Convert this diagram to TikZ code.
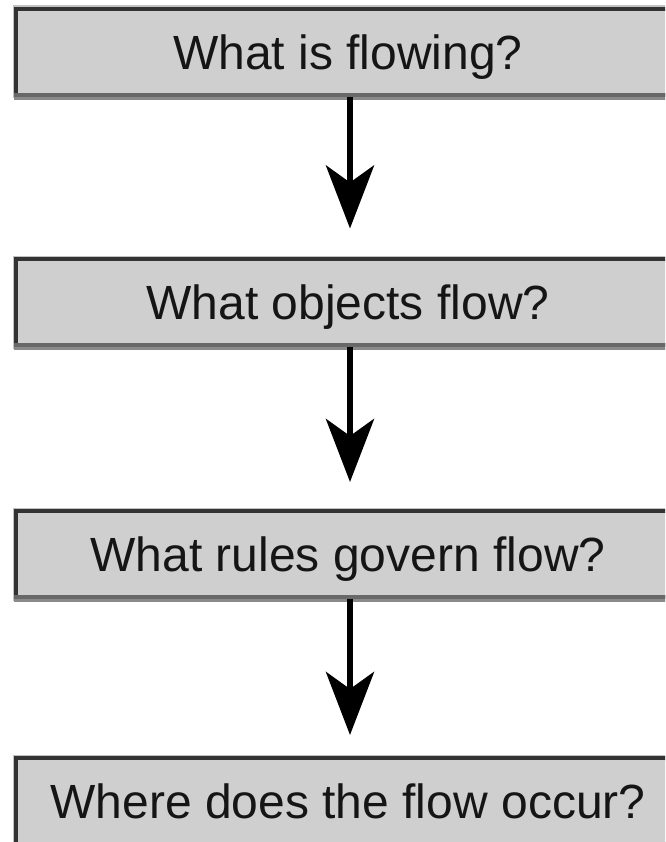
\documentclass[tikz,border=0pt]{standalone}
\usepackage{fontspec}
\setmainfont{Liberation Sans}
\usetikzlibrary{arrows.meta}

\definecolor{boxfill}{HTML}{CFCFCF}
\definecolor{boxline}{HTML}{333333}
\definecolor{boxhalo}{HTML}{C2C2C2}
\definecolor{botedge}{HTML}{686868}
\definecolor{botshadow}{HTML}{8A8A8A}
\definecolor{labeltext}{HTML}{151515}

\tikzset{
  qbox/.style={
    draw=boxline, fill=boxfill, line width=3.5pt,
    minimum width=664pt, minimum height=86pt, inner sep=0pt,
    text height=34.4pt, text depth=0pt, text=labeltext,
    font=\fontsize{48}{58}\selectfont,
    preaction={draw=boxhalo, line width=7pt}
  },
  flowarrow/.style={
    draw=black, line width=6.5pt,
    -{Stealth[length=63pt, width=48pt, inset=17pt]}
  },
  bottomedge/.style={draw=botedge, line width=3.5pt},
  bottomshadow/.style={draw=botshadow, line width=3.5pt}
}

\begin{document}
\begin{tikzpicture}
  \useasboundingbox (0,0) rectangle (665pt,-842pt);
  \fill[white] (0,0) rectangle (665pt,-842pt);
  \clip (0,0) rectangle (665pt,-842pt);

  % the four question boxes
  \node[qbox] (b1) at (348pt,-52pt)  {What is flowing?};
  \node[qbox] (b2) at (348pt,-302pt) {What objects flow?};
  \node[qbox] (b3) at (348pt,-554pt) {What rules govern flow?};
  \node[qbox] (b4) at (348pt,-801pt) {Where does the flow occur?};

  % lighter lower edge with a drop shadow beneath it
  \foreach \b in {b1,b2,b3,b4} {
    \draw[bottomshadow] ([yshift=-1.75pt]\b.south west) -- ([yshift=-1.75pt]\b.south east);
    \draw[bottomedge] ([yshift=1.75pt]\b.south west) -- ([yshift=1.75pt]\b.south east);
  }

  % connectors
  \draw[flowarrow, shorten >=28.75pt] ([xshift=2pt]b1.south) -- ([xshift=2pt]b2.north);
  \draw[flowarrow, shorten >=27.25pt] ([xshift=2pt]b2.south) -- ([xshift=2pt]b3.north);
  \draw[flowarrow, shorten >=21.25pt] ([xshift=2pt]b3.south) -- ([xshift=2pt]b4.north);
\end{tikzpicture}
\end{document}
